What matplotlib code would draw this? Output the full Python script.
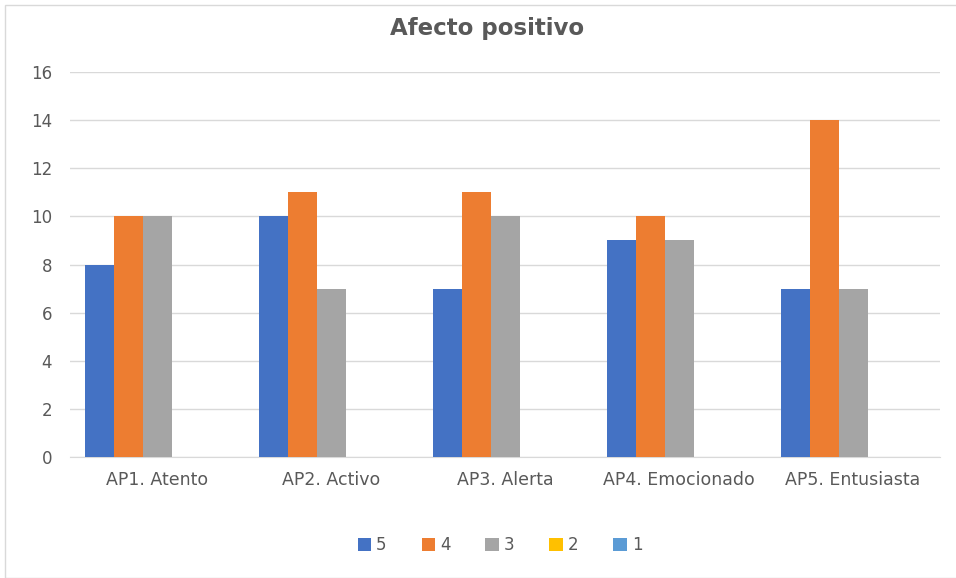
import matplotlib.pyplot as plt
import numpy as np
from matplotlib.patches import Rectangle

categories = ["AP1. Atento", "AP2. Activo", "AP3. Alerta", "AP4. Emocionado", "AP5. Entusiasta"]
series_names = ["5", "4", "3", "2", "1"]
s5 = [8, 10, 7, 9, 7]
s4 = [10, 11, 11, 10, 14]
s3 = [10, 7, 10, 9, 7]
s2 = [0, 0, 0, 0, 0]
s1 = [0, 0, 0, 0, 0]
values = [s5, s4, s3, s2, s1]
colors = ["#4472c4", "#ed7d31", "#a5a5a5", "#ffc000", "#5b9bd5"]
yticks = [0, 2, 4, 6, 8, 10, 12, 14, 16]

plt.rcParams['font.family'] = ['DejaVu Sans']

fig = plt.figure(figsize=(9.56, 5.78), dpi=100)
fig.patches.append(Rectangle((5/956, 0), 1.2, 1 - 5/578, transform=fig.transFigure,
                             fill=False, edgecolor="#d9d9d9", linewidth=1.0))

ax = fig.add_axes([70/956, 1 - 457/578, 870/956, (457 - 72)/578])

x = np.arange(len(categories))
w = 1/6
for i, (name, vals, c) in enumerate(zip(series_names, values, colors)):
    offs = (i - 2) * w
    ax.bar(x + offs, vals, width=w, color=c, label=name, zorder=3)

ax.set_xlim(-0.5, len(categories) - 0.5)
ax.set_ylim(0, 16)
ax.set_yticks(yticks)
ax.set_xticks(x)
ax.set_xticklabels(categories)
ax.grid(axis="y", color="#d9d9d9", linewidth=1.0, zorder=0)
for s in ["top", "right", "left"]:
    ax.spines[s].set_visible(False)
ax.spines["bottom"].set_color("#d9d9d9")
ax.tick_params(axis="both", length=0, colors="#595959")
ax.tick_params(axis="x", pad=10, labelsize=12.5)
ax.tick_params(axis="y", pad=13, labelsize=12)

fig.text(487/956, 1 - 29/578, "Afecto positivo", ha="center", va="center",
         fontsize=16.5, fontweight="bold", color="#595959")

leg = fig.legend(loc="center", bbox_to_anchor=(500/956, 1 - 545/578), ncol=5,
                 frameon=False, fontsize=12, handlelength=0.8, handleheight=0.8,
                 columnspacing=2.1, handletextpad=0.3)
for t in leg.get_texts():
    t.set_color("#595959")

fig.savefig("out.png", dpi=100)
